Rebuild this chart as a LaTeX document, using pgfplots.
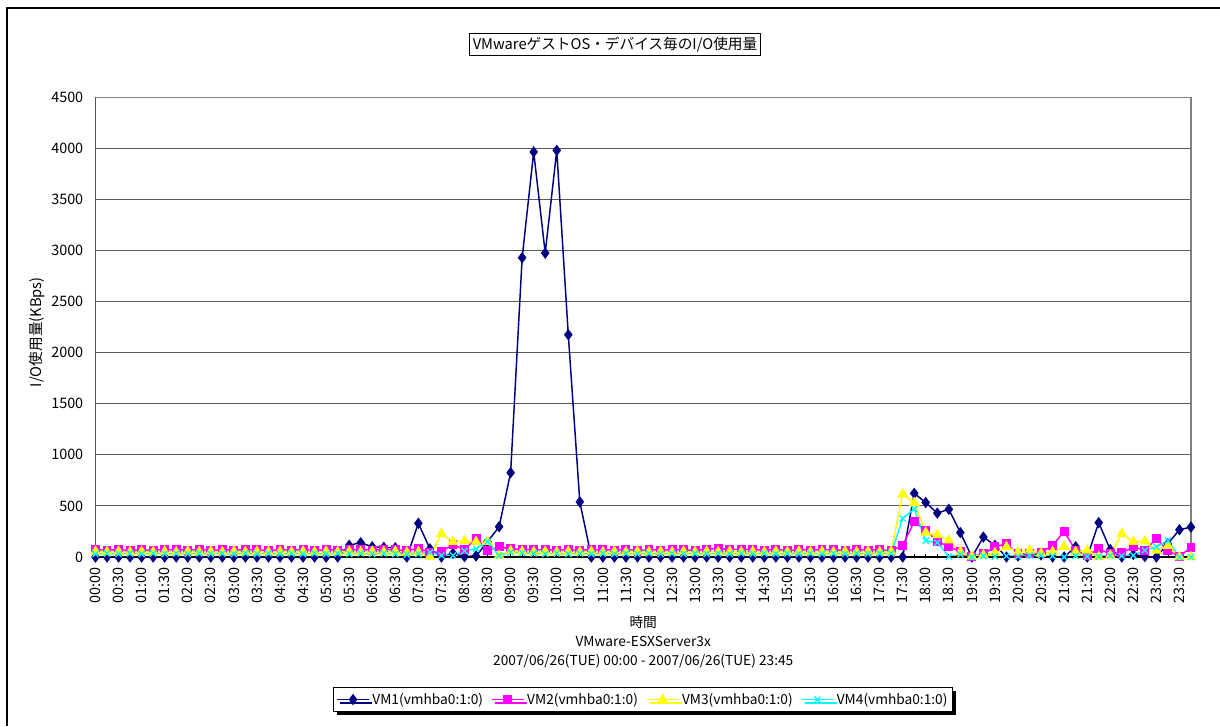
\documentclass[border=0pt]{standalone}
\usepackage{fontspec}
\setmainfont{Noto Sans CJK JP}
\usepackage{pgfplots}
\usepackage{pgfplotstable}
\pgfplotsset{compat=1.18}
\usetikzlibrary{shadows}
\definecolor{vmA}{RGB}{0,0,128}
\definecolor{vmB}{RGB}{255,0,255}
\definecolor{vmC}{RGB}{255,255,0}
\definecolor{vmD}{RGB}{0,255,255}

\pgfplotstableread{
i vma vmb vmc vmd
0 0 70 55 30
1 0 68 50 35
2 0 72 55 30
3 0 65 50 35
4 0 70 55 30
5 0 66 50 35
6 0 72 55 30
7 0 70 50 35
8 0 68 55 30
9 0 72 50 35
10 0 66 55 30
11 0 70 50 35
12 0 68 55 30
13 0 72 50 35
14 0 70 55 30
15 0 66 50 35
16 0 70 55 30
17 0 68 50 35
18 0 72 55 30
19 0 66 50 35
20 0 70 55 30
21 0 68 50 35
22 115 72 55 30
23 140 70 50 35
24 100 68 55 30
25 95 72 50 35
26 90 70 55 30
27 0 65 45 25
28 330 82 50 30
29 80 45 5 45
30 0 50 228 15
31 35 125 150 15
32 5 70 157 60
33 10 185 150 80
34 150 65 150 150
35 296 100 15 15
36 825 80 60 45
37 2930 75 55 40
38 3965 70 50 35
39 2975 72 55 30
40 3980 68 50 35
41 2176 70 55 30
42 540 66 50 35
43 0 72 55 30
44 0 70 50 35
45 0 68 55 30
46 0 72 50 35
47 0 66 55 30
48 0 70 50 35
49 0 68 55 30
50 0 72 50 35
51 0 70 55 30
52 0 66 50 35
53 0 75 55 30
54 0 85 50 35
55 0 72 55 30
56 0 78 50 35
57 0 70 55 30
58 0 68 50 35
59 0 72 55 30
60 0 66 50 35
61 0 70 55 30
62 0 68 50 35
63 0 72 55 30
64 0 70 50 35
65 0 66 55 30
66 0 70 50 35
67 0 68 55 30
68 0 72 50 35
69 0 60 55 35
70 0 115 615 378
71 623 345 530 470
72 533 260 240 160
73 430 155 215 140
74 467 100 163 5
75 239 55 52 25
76 0 5 5 0
77 195 30 20 10
78 115 100 40 5
79 0 130 100 10
80 10 30 50 5
81 40 30 65 15
82 20 45 35 15
83 0 115 50 10
84 0 250 100 0
85 100 65 50 10
86 0 15 65 5
87 336 80 0 5
88 72 30 15 15
89 0 40 228 10
90 26 100 150 15
91 5 65 155 65
92 0 180 65 100
93 130 65 110 160
94 267 5 0 0
95 293 95 0 0
}\iodata

\begin{document}
\begin{tikzpicture}
\useasboundingbox (0,0) rectangle (915pt,-544.5pt);
\draw[line width=1.5pt] (5.25pt,-544.5pt) -- (5.25pt,-6pt) -- (915pt,-6pt);
\node[draw, line width=0.75pt, fill=white, font=\fontsize{11pt}{13pt}\selectfont, inner sep=2.5pt] at (461.25pt,-33.4pt) {VMwareゲストOS・デバイス毎のI/O使用量};
\begin{axis}[
  at={(71.625pt,-417.75pt)}, anchor=south west,
  scale only axis, width=821.6pt, height=344.8pt,
  xmin=0, xmax=95, ymin=0, ymax=4500,
  ytick={0,500,...,4500},
  xtick={0,2,...,94},
  minor xtick={1,3,...,95},
  xticklabels={00:00,00:30,01:00,01:30,02:00,02:30,03:00,03:30,04:00,04:30,05:00,05:30,06:00,06:30,07:00,07:30,08:00,08:30,09:00,09:30,10:00,10:30,11:00,11:30,12:00,12:30,13:00,13:30,14:00,14:30,15:00,15:30,16:00,16:30,17:00,17:30,18:00,18:30,19:00,19:30,20:00,20:30,21:00,21:30,22:00,22:30,23:00,23:30},
  xticklabel style={rotate=90, anchor=east},
  xticklabel shift=4pt,
  tick align=inside,
  major tick length=2.25pt, minor tick length=2.25pt,
  ytick style={draw=none},
  xtick pos=bottom, ytick pos=left,
  tick style={black, line width=0.6pt},
  yticklabel style={inner sep=0pt, xshift=-9pt},
  /pgf/number format/assume math mode=true,
  /pgf/number format/1000 sep={},
  ticklabel style={font=\fontsize{10.8pt}{13pt}\selectfont},
  ymajorgrids,
  major grid style={black!65, line width=0.7pt},
  axis line style={draw=black!50, line width=0.8pt},
  ylabel={I/O使用量(KBps)},
  ylabel style={at={(axis description cs:-0.0534,0.489)}, anchor=center, font=\fontsize{11pt}{13pt}\selectfont},
  xlabel={時間\\VMware-ESXServer3x\\2007/06/26(TUE) 00:00 - 2007/06/26(TUE) 23:45},
  xlabel style={at={(axis description cs:0.5,-0.185)}, anchor=center, align=center, font=\fontsize{10.3pt}{13.9pt}\selectfont},
  legend columns=-1,
  legend style={at={(0.5,-0.31)}, anchor=center, draw=black, line width=0.75pt, fill=white,
    font=\fontsize{10.3pt}{12pt}\selectfont,
    drop shadow={shadow xshift=2.5pt, shadow yshift=-2.5pt, fill=black, opacity=1},
    /tikz/every even column/.append style={column sep=4pt},
    inner sep=2pt},
  legend image code/.code={\draw[mark repeat=2,mark phase=2] plot coordinates {(0pt,0pt) (12pt,0pt) (24pt,0pt)};},
]
\addplot[color=vmA, line width=1.1pt, mark=diamond*, mark size=3.4pt, mark options={solid, fill=vmA}] table[x=i, y=vma] {\iodata};
\addlegendentry{VM1(vmhba0:1:0)}
\addplot[color=vmB, line width=1.1pt, mark=square*, mark size=2.8pt, mark options={solid, fill=vmB}] table[x=i, y=vmb] {\iodata};
\addlegendentry{VM2(vmhba0:1:0)}
\addplot[color=vmC, line width=1.1pt, mark=triangle*, mark size=3.6pt, mark options={solid, fill=vmC}] table[x=i, y=vmc] {\iodata};
\addlegendentry{VM3(vmhba0:1:0)}
\addplot[color=vmD, line width=1.1pt, mark=x, mark size=3.2pt, mark options={solid, line width=1pt}] table[x=i, y=vmd] {\iodata};
\addlegendentry{VM4(vmhba0:1:0)}
\draw[black, line width=0.8pt] (rel axis cs:0,1) -- (rel axis cs:0,0) -- (rel axis cs:1,0);
\end{axis}
\end{tikzpicture}
\end{document}
